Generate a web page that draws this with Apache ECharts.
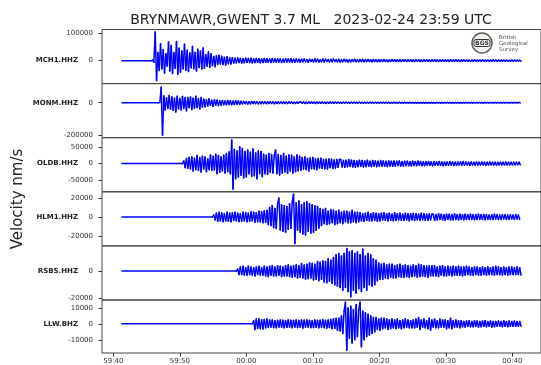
<!DOCTYPE html>
<html><head><meta charset="utf-8">
<script src="https://cdn.jsdelivr.net/npm/echarts@6/dist/echarts.min.js"></script>
<style>html,body{margin:0;padding:0;background:#fff}#c{width:541px;height:365px}</style>
</head><body><div id="c"></div>
<script>
// ---- data ----
const titleText = 'BRYNMAWR,GWENT 3.7 ML   2023-02-24 23:59 UTC';
const yTitle = 'Velocity nm/s';
const stations = ['MCH1.HHZ', 'MONM.HHZ', 'OLDB.HHZ', 'HLM1.HHZ', 'RSBS.HHZ', 'LLW.BHZ'];
// time in seconds after 23:59:40
const xTickValues = [0, 10, 20, 30, 40, 50, 60];
const xTickLabels = ['59:40', '59:50', '00:00', '00:10', '00:20', '00:30', '00:40'];
const xMin = -1.7, xMax = 64.3;
const traceStart = 1.3;
const dt = 0.2;
const onsets = [5.7, 7.0, 10.6, 15.1, 18.7, 21.1];
const yMins = [-84000, -216000, -84200, -30500, -21200, -18300];
const yMaxs = [114000, 118000, 77400, 26600, 18500, 15000];
const yTicks = [[0, 100000], [-200000, 0], [-50000, 0, 50000], [-20000, 0, 20000], [-20000, 0], [-10000, 0, 10000]];

const mch1 = [0,2000,-6000,105000,-73000,
30000,-36000,62000,-30000,40000,-45000,25000,-20000,68000,-38000,
55000,-47000,30000,-28000,70000,-50000,45000,-42000,35000,-30000,
60000,-35000,38000,-40000,28000,-26000,52000,-30000,30000,-38000,
42000,-25000,35000,-30000,46000,-28000,22000,-20000,32000,-24000,
25000,-18000,15000,-22000,18000,-14000,20000,-12000,16000,-14000,12000,-16000,14000,-11000,10000,-12000,11000,-9000,
9000,-8000,10000,-7000,8000,-9000,7000,-8000,9000,-6000,
8000,-7000,9000,-8000,6000,-7000,8000,-6000,7000,-8000,
6000,-7000,8000,-6000,7000,-6000,6000,-7000,8000,-5000,
6000,-6000,7000,-5000,6000,-7000,5000,-6000,7000,-5000,
6000,-5000,7000,-6000,5000,-6000,6000,-5000,5000,-6000,
5000,-4000,6000,-5000,4000,-6000,5000,-3000,4000,-5000,
6000,-4000,5000,-5000,3000,-4000,6000,-5000,5000,-3000,
4000,-5000,5000,-4000,6000,-3000,4000,-4000,5000,-5000,
3000,-4000,5000,-3000,4000,-5000,3000,-4000,4000,-3000,
5000,-4000,3000,-4000,4000,-3000,5000,-4000,3000,-3000,
4000,-3000,3000,-4000,4000,-3000,3000,-4000,4000,-3000,
3000,-3000,4000,-3000,3000,-4000,3000,-3000,4000,-2000,
3000,-3000,2000,-3000,4000,-3000,3000,-2000,3000,-3000,
3000,-2000,3000,-3000,2000,-3000,3000,-2000,3000,-3000,
2000,-3000,3000,-2000,3000,-2000,2000,-3000,3000,-2000,
3000,-2000,2000,-3000,2000,-2000,3000,-2000,2000,-2000,
2000,-3000,3000,-2000,2000,-2000,3000,-2000,2000,-3000,
2000,-2000,3000,-2000,2000,-2000,2000,-3000,2000,-2000,
3000,-2000,2000,-2000,2000,-2000,3000,-2000,2000,-2000,
2000,-2000,2000,-2000,3000,-2000,2000,-2000,2000,-2000,
2000,-2000,2000,-1500,2000,-2000,1500,-2000,2000,-1500,
2000,-1500,2000,-1500,1500,-2000];

const monm = [2000,95000,-200000,
42000,-45000,30000,-35000,45000,-40000,35000,-47000,28000,-57000,40000,-38000,26000,-45000,38000,-35000,30000,-50000,32000,-30000,36000,-42000,28000,-34000,40000,-30000,26000,-38000,
32000,-28000,22000,-25000,18000,-20000,24000,-16000,15000,-22000,18000,-14000,16000,-18000,12000,-15000,14000,-12000,10000,-12000,14000,-11000,12000,-13000,10000,-11000,12000,-9000,10000,-10000,
9000,-7000,8000,-6000,7000,-8000,6000,-7000,8000,-5000,7000,-6000,6000,-7000,5000,-6000,7000,-5000,6000,-6000,5000,-5000,6000,-4000,5000,-6000,4000,-5000,5000,-4000,5000,-4000,4000,-5000,4000,-4000,5000,-3000,4000,-4000,3000,-4000,4000,-3000,4000,
4000,-3000,4000,-4000,3000,-4000,5000,-3000,4000,-3000,
3000,-4000,4000,-3000,3000,-3000,4000,-3000,3000,-4000,
3000,-3000,4000,-2000,3000,-3000,3000,-2000,3000,-3000,
2000,-3000,3000,-2000,3000,-2000,2000,-3000,3000,-2000,
3000,-2000,2000,-2000,3000,-2000,2000,-3000,2000,-2000,
2000,-2000,3000,-2000,2000,-2000,2000,-2000,2000,-3000,
2000,-2000,2000,-2000,2000,-1500,2000,-2000,1500,-2000,
2000,-1500,1500,-2000,2000,-1500,1500,-1500,2000,-1500,
1500,-1500,2000,-1500,1500,-1500,1500,-2000,1500,-1500,
1500,-1500,1500,-1500,1500,-1500,1500,-1500,1500,-1500,
1500,-1500,1500,-1000,1500,-1500,1000,-1500,1500,-1000,
1500,-1000,1500,-1500,1000,-1500,1500,-1000,1000,-1500,
1000,-1500,1500,-1000,1000,-1000,1500,-1000,1000,-1500,
1000,-1000,1500,-1000,1000,-1000,1000,-1500,1000,-1000,
1000,-1000,1000,-1000,1500,-1000,1000,-1000,1000,-1000,
1000,-1000,1000,-1000,1000,-1000,1000,-1000,1000,-1000,
1000,-1000,1000,-1000,1000,-1000];

const oldb = [8000,-12000,15000,-14000,18000,-16000,20000,-22000,16000,-18000,24000,-20000,18000,-25000,22000,-16000,20000,-24000,14000,-18000,26000,-20000,22000,-19000,28000,-30000,24000,-26000,20000,-22000,25000,-28000,30000,-24000,
35000,-30000,70500,-76000,42000,-45000,38000,-40000,50000,-35000,45000,-42000,36000,-39000,40000,-30000,34000,-38000,44000,-36000,32000,-45000,38000,-30000,36000,-39000,
28000,-30000,25000,-32000,30000,-26000,27000,-28000,24000,41000,-30000,27000,-34000,24000,-28000,30000,-25000,22000,-29000,26000,-22000,25000,-28000,20000,-24000,26000,-21000,22000,
-20000,18000,-16000,20000,-18000,15000,-22000,17000,-15000,18000,-16000,14000,-18000,15000,-13000,16000,-14000,12000,-15000,13000,-16000,14000,-12000,13000,-14000,11000,-13000,12000,-11000,12000,
12000,-10000,9000,-11000,10000,-9000,12000,-8000,10000,-10000,
9000,-11000,8000,-9000,10000,-8000,9000,-10000,8000,-9000,
10000,-8000,7000,-9000,9000,-7000,8000,-9000,7000,-8000,
9000,-7000,8000,-8000,7000,-9000,8000,-7000,7000,-8000,
8000,-7000,7000,-6000,8000,-7000,6000,-7000,7000,-6000,
7000,-6000,6000,-7000,7000,-6000,6000,-6000,7000,-5000,
6000,-6000,5000,-6000,6000,-5000,6000,-5000,5000,-6000,
6000,-5000,5000,-5000,6000,-5000,5000,-6000,5000,-5000,
5000,-5000,6000,-4000,5000,-5000,4000,-5000,5000,-4000,
5000,-4000,6000,-5000,5000,-4000,4000,-5000,5000,-4000,
4000,-5000,5000,-4000,4000,-4000,5000,-4000,4000,-5000,
4000,-4000,5000,-4000,4000,-4000,4000,-5000,4000,-4000,
4000,-4000,4000,-4000,5000,-4000,4000,-4000,4000,-4000,
4000,-4000,4000,-3000,4000,-4000];

const hlm1 = [2000,-3000,4000,-4500,5000,-4000,4500,-5000,3500,-4000,5000,-4500,4000,-5000,4500,-3500,5000,-4000,4000,-5000,3500,-4500,5000,-4000,4500,-5000,4000,-4500,5500,-4000,5000,-5500,4500,-5000,6000,-5000,5500,-6000,6500,-5500,
7000,-8000,10000,-9000,12000,-11000,9000,-12000,14000,19900,-13800,13000,-15000,12000,-16000,11000,-13000,14000,-12000,16000,24100,-28000,15000,-14000,17000,-16000,13000,-18000,15000,
-19000,16000,-15000,14000,-17000,13000,-16000,12000,-14000,11000,-12000,
9000,-9000,8000,-7000,9000,-8000,6000,-7000,8000,-6000,7000,-8000,6000,-7000,7000,-6000,5000,-7000,6000,-5000,6000,-6000,5000,-6000,7000,-5000,5000,-6000,5000,-5000,
4500,-4000,3500,-4500,4000,-3500,5000,-4000,3500,-4000,4500,-3500,4000,-4500,3500,-4000,4000,-3000,4500,-3500,3500,-4000,4000,-3500,3000,-4000,4500,-3500,3500,-3000,4000,-3500,3000,-3500,4000,-3000,3500,-4000,3500,-3000,4000,-3500,3500,-3000,3000,-3500,4000,-3000,3500,-3500,3000,-3500,3500,-3000,3000,
3000,-3500,2500,-3000,3500,-2500,3000,-3000,2500,-3500,3000,-2500,3000,-3000,2500,-3000,3500,-2500,2500,-3000,3000,-2500,2500,-3000,3000,-2500,2500,-2500,3000,-2500,2500,-3000,2500,-2500,3000,-2500,2500,-2500,2500,-3000,2500,-2500,2000,-2500,2500,-2500,3000,-2000,2500,-2500,2000,-2500,2500,-2000,2500,-2500,2000,-2500,2500,-2000,2000,-2500,2500,-2000,2000,-2500];

const rsbs = [1500,-2500,3000,-2500,3500,-3000,2500,-3000,3500,-2500,3000,-3000,2500,-3500,3000,-2500,3500,-3000,2500,-3000,3500,-3500,3000,-4000,3500,-3000,4000,-3500,3000,-3500,4000,-3000,3500,-4000,3000,-3500,4000,-3500,4500,-4000,3500,-4500,4000,
-4000,4500,-5000,4000,-4500,5500,-5000,4500,-6000,5000,-5500,6000,-5000,5500,-6500,5000,-6000,7000,-7000,6500,-6000,7500,-8000,7000,-8500,9000,-7500,8000,-9000,10000,
-10000,12000,-11000,13000,-12000,11000,-14000,13000,-12000,16600,-15000,14000,-18800,15000,-14000,13000,-16000,14000,-13000,12000,-15000,16000,-12000,11000,-14000,13000,-10000,12000,-11000,9000,-10000,8000,
-7000,6000,-6000,5000,-6000,5500,-5000,4500,-5500,5000,-4500,5000,-5000,4000,-5000,4500,-4000,5000,-4500,4000,-4500,4500,-4000,4000,-4500,3500,-4000,4500,-3500,4000,-4500,5000,-4000,4500,-3500,4000,-4000,3500,-4500,4000,-3500,4000,-3500,
4000,-3500,3000,-4000,3500,-3000,4000,-3500,3000,-3500,3500,-3000,3000,-3500,3500,-3000,3000,-3000,3500,-3000,3000,-3500,3000,-3000,3500,-2500,3000,-3000,2500,-3000,3000,-2500,3000,-3000,2500,-3000,3000,-2500,2500,-3000,3000,-2500,2500,-2500,3000,-3000,3500,-2500,3000,-2500,2500,-3000,3000,-2500,2500,-3000,3000,-2500,3000,-2500,2500,-2500,3000,-2500,2500,-3000];

const llw = [2000,-3500,3000,-2800,3200,-3000,2600,-3200,2800,-2500,3000,
-2200,2400,-2000,2500,-2300,2000,-2500,2200,-2000,2400,-2100,2300,-2500,2000,-2200,2500,-2000,2300,-2400,2100,-2000,2500,-2300,2200,-2000,2400,-2600,2300,-2100,2500,-2000,2200,-2400,2000,-2300,2500,-2100,2200,-2500,2300,-2000,2600,-2400,2200,-2700,2500,-2300,2800,-3000,3200,-2800,3500,-4000,3600,-4500,5000,-6000,
8000,13600,-16500,10000,-9000,11000,-12000,9000,-10000,12000,-8000,9000,13600,-14400,8000,-10000,7000,-8000,6000,-7000,5000,-6000,4000,
-5000,4000,-3500,3000,-4000,3500,-3000,3500,-2500,3000,-3500,2500,-3000,3000,-2500,2500,-3000,3000,-2500,2000,-3000,2500,-2500,3000,-2000,2500,-2500,2000,-2500,2500,
-2500,3000,-2000,4000,-3500,2500,-2000,3000,-2500,2000,-3000,3500,-4000,2500,-2000,3000,-2500,2000,-2500,3000,-2000,2500,-2000,2500,-3000,2000,-2500,3500,-3000,2000,-2000,2500,-2000,2000,-2500,
2000,-1800,1500,-2000,1800,-1500,2000,-1800,1500,-1800,2000,-1500,1800,-2000,1500,-1800,1800,-1500,2000,-1800,1500,-1500,1800,-2000,1500,-1800,1500,-1500,1800,-1500,1500,-1800,2000,-1500,1500,-1800,1800,-1500,1500,-1500,1800,-1500,1500,-1500,1500,-1500];

const traces = [mch1, monm, oldb, hlm1, rsbs, llw];

// ---- layout ----
const panelTop = 29.5, panelH = 54.1, gridLeft = 102, gridWidth = 441;
const FONT = 'DejaVu Sans';
const TRACE_COLOR = '#0000ff';

function buildTrace(onset, vals) {
  const pts = [[traceStart, 0], [+(onset - dt).toFixed(2), 0]];
  vals.forEach((v, i) => pts.push([+(onset + i * dt).toFixed(2), v]));
  return pts;
}

// custom series: a segment from the previous sample to this one, placed by the axes
function renderSegment(params, api) {
  const i = params.dataIndexInside;
  if (i === 0) return null;
  const p0 = api.coord([api.value(0, i - 1), api.value(1, i - 1)]);
  const p1 = api.coord([api.value(0, i), api.value(1, i)]);
  return {type: 'line', shape: {x1: p0[0], y1: p0[1], x2: p1[0], y2: p1[1]},
    style: {stroke: TRACE_COLOR, lineWidth: 1.5, fill: null, lineCap: 'round'}, silent: true};
}

const grids = [], xAxes = [], yAxes = [], series = [];
stations.forEach((name, k) => {
  grids.push({left: gridLeft, width: gridWidth, top: panelTop + k * panelH, height: panelH,
    show: true, borderColor: '#444', borderWidth: 1, backgroundColor: 'transparent', containLabel: false});
  const last = k === stations.length - 1;
  xAxes.push({
    type: 'value', gridIndex: k, min: xMin, max: xMax, show: last, position: 'bottom',
    splitLine: {show: false}, axisLine: {show: false, onZero: false},
    axisTick: {show: last, length: 3.5, lineStyle: {color: '#333'}, customValues: xTickValues},
    axisLabel: {show: last, customValues: xTickValues, margin: 5, fontSize: 7, fontFamily: FONT, color: '#333',
      formatter: v => xTickLabels[xTickValues.indexOf(v)]}
  });
  yAxes.push({
    type: 'value', gridIndex: k, min: yMins[k], max: yMaxs[k], position: 'left',
    splitLine: {show: false}, axisLine: {show: false, onZero: false},
    axisTick: {show: true, length: 3.5, lineStyle: {color: '#333'}, customValues: yTicks[k]},
    axisLabel: {
      customValues: yTicks[k], margin: 9, fontSize: 7, fontFamily: FONT, color: '#333',
      formatter: v => v === 0 ? '{st|' + name + '}{z|0}' : '{n|' + v + '}',
      rich: {
        st: {fontFamily: FONT, fontWeight: 'bold', fontSize: 7, color: '#222'},
        z: {fontFamily: FONT, fontSize: 7, color: '#333', width: 15, align: 'right'},
        n: {fontFamily: FONT, fontSize: 7, color: '#333'}
      }
    }
  });
  series.push({
    type: 'custom', coordinateSystem: 'cartesian2d', xAxisIndex: k, yAxisIndex: k,
    data: buildTrace(onsets[k], traces[k]), encode: {x: 0, y: 1},
    renderItem: renderSegment, animation: false, clip: true, silent: true
  });
});

const chart = echarts.init(document.getElementById('c'), null, {renderer: 'canvas'});
chart.setOption({
  animation: false,
  backgroundColor: '#fff',
  grid: grids, xAxis: xAxes, yAxis: yAxes, series: series,
  graphic: [
    {type: 'text', x: 311, y: 20, style: {text: titleText, font: '14px "DejaVu Sans"', fill: '#222', textAlign: 'center', textVerticalAlign: 'middle'}},
    {type: 'text', x: 18, y: 199, rotation: Math.PI / 2, style: {text: yTitle, font: '15px "DejaVu Sans"', fill: '#222', textAlign: 'center', textVerticalAlign: 'middle'}},
    {type: 'group', x: 482, y: 43, children: [
      {type: 'circle', shape: {cx: 0, cy: 0, r: 10}, style: {fill: '#f6f5f0', stroke: '#5a5f5a', lineWidth: 1.5}},
      {type: 'rect', shape: {x: -8, y: -3.5, width: 16, height: 7, r: 2}, style: {fill: '#fff', stroke: '#333', lineWidth: 1}},
      {type: 'text', x: 0, y: 0, style: {text: 'BGS', font: 'bold 6px "DejaVu Sans"', fill: '#333', textAlign: 'center', textVerticalAlign: 'middle'}}
    ]},
    {type: 'text', x: 499, y: 38, style: {text: 'British', font: '5.5px "DejaVu Sans"', fill: '#555', textVerticalAlign: 'middle'}},
    {type: 'text', x: 499, y: 44, style: {text: 'Geological', font: '5.5px "DejaVu Sans"', fill: '#555', textVerticalAlign: 'middle'}},
    {type: 'text', x: 499, y: 50, style: {text: 'Survey', font: '5.5px "DejaVu Sans"', fill: '#555', textVerticalAlign: 'middle'}}
  ]
});
</script>
</body></html>
